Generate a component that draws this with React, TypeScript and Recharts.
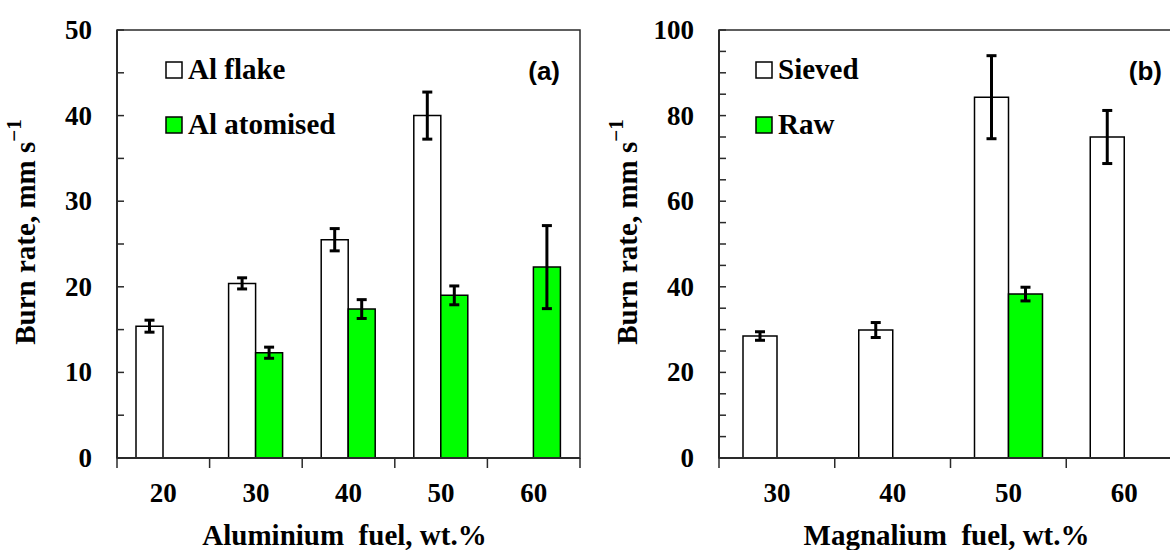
import React from 'react';
import { BarChart, Bar, XAxis, YAxis, ErrorBar, ReferenceArea } from 'recharts';

// Panel (a): aluminium fuel
const alCategories = ['20', '30', '40', '50', '60'];
const alFlake = [15.4, 20.4, 25.5, 40.0, null];
const alFlakeErr = [0.7, 0.65, 1.3, 2.75, null];
const alAtomised = [null, 12.3, 17.4, 19.0, 22.3];
const alAtomisedErr = [null, 0.65, 1.1, 1.1, 4.85];
const alTicks = [0, 5, 10, 15, 20, 25, 30, 35, 40, 45, 50];

// Panel (b): magnalium fuel
const mgCategories = ['30', '40', '50', '60'];
const mgSieved = [28.5, 29.9, 84.3, 75.0];
const mgSievedErr = [1.0, 1.75, 9.7, 6.2];
const mgRaw = [null, null, 38.3, null];
const mgRawErr = [null, null, 1.6, null];
const mgTicks = [0, 5, 10, 15, 20, 25, 30, 35, 40, 45, 50, 55, 60, 65, 70, 75, 80, 85, 90, 95, 100];

const SERIF = '"Liberation Serif", "Times New Roman", serif';
const SANS = '"Liberation Sans", Arial, sans-serif';
const AXIS = '#2a2a2a';
const GREEN = '#00FF00';

const CHART_W = 600;
const CHART_H = 550;
const TOP = 30;
const RIGHT = 20;
const Y_W = 117;
const X_H = 92;
const PLOT_W = CHART_W - Y_W - RIGHT;
const PLOT_H = CHART_H - TOP - X_H;

interface SeriesDef {
  key: string;
  errKey: string;
  name: string;
  fill: string;
}

interface PanelProps {
  data: any[];
  series: SeriesDef[];
  yMax: number;
  yTicks: number[];
  labelStep: number;
  barSize: number;
  xTitle: string;
  panelLabel: string;
  legendX: number;
}

function Panel({ data, series, yMax, yTicks, labelStep, barSize, xTitle, panelLabel, legendX }: PanelProps) {
  const band = PLOT_W / data.length;
  const plotBottom = TOP + PLOT_H;

  const YTick = ({ x, y, payload }: any) => (
    <g>
      <line x1={x} x2={x + 7} y1={y} y2={y} stroke={AXIS} strokeWidth={1.5} />
      {payload.value % labelStep === 0 && (
        <text x={x - 25} y={y} dy={9} textAnchor="end" fontFamily={SERIF} fontWeight="bold" fontSize={27} fill="#000">
          {payload.value}
        </text>
      )}
    </g>
  );

  const XTick = ({ x, y, payload, index }: any) => (
    <g>
      <line x1={x - band / 2} x2={x - band / 2} y1={y} y2={y + 10} stroke={AXIS} strokeWidth={1.5} />
      {index === data.length - 1 && (
        <line x1={x + band / 2} x2={x + band / 2} y1={y} y2={y + 10} stroke={AXIS} strokeWidth={1.5} />
      )}
      <text x={x} y={y + 44} textAnchor="middle" fontFamily={SERIF} fontWeight="bold" fontSize={27} fill="#000">
        {payload.value}
      </text>
    </g>
  );

  return (
    <BarChart
      width={CHART_W}
      height={CHART_H}
      data={data}
      margin={{ top: TOP, right: RIGHT, left: 0, bottom: 0 }}
      barGap={0}
      barSize={barSize}
    >
      <XAxis
        dataKey="cat"
        height={X_H}
        tickLine={false}
        tickSize={0}
        tickMargin={0}
        axisLine={{ stroke: AXIS, strokeWidth: 2 }}
        tick={<XTick />}
        interval={0}
      />
      <YAxis
        width={Y_W}
        domain={[0, yMax]}
        ticks={yTicks}
        tickLine={false}
        tickSize={0}
        tickMargin={0}
        axisLine={{ stroke: AXIS, strokeWidth: 2 }}
        tick={<YTick />}
        interval={0}
      />
      <ReferenceArea y1={0} y2={yMax} fill="none" stroke={AXIS} strokeWidth={1.5} />
      {series.map((s) => (
        <Bar key={s.key} dataKey={s.key} fill={s.fill} stroke="#000" strokeWidth={1.5} isAnimationActive={false}>
          <ErrorBar dataKey={s.errKey} direction="y" width={5} strokeWidth={3} stroke="#000" isAnimationActive={false} />
        </Bar>
      ))}

      <text
        transform={`translate(25, ${TOP + PLOT_H / 2 - 12}) rotate(-90)`}
        textAnchor="middle"
        dominantBaseline="central"
        fontFamily={SERIF}
        fontWeight="bold"
        fontSize={29}
        fill="#000"
      >
        Burn rate, mm s
        <tspan dy={-11} fontSize={21}>−1</tspan>
      </text>
      <text
        x={Y_W + PLOT_W / 2 - 4}
        y={plotBottom + 87}
        textAnchor="middle"
        fontFamily={SERIF}
        fontWeight="bold"
        fontSize={29}
        fill="#000"
        style={{ whiteSpace: 'pre' }}
      >
        {xTitle}
      </text>
      <text x={Y_W + PLOT_W - 20} y={80} textAnchor="end" fontFamily={SANS} fontWeight="bold" fontSize={26} fill="#000">
        {panelLabel}
      </text>
      {series.map((s, i) => (
        <g key={s.key}>
          <rect x={legendX} y={62 + i * 55} width={16} height={16} fill={s.fill} stroke="#000" strokeWidth={1.5} />
          <text x={legendX + 22} y={79 + i * 55} fontFamily={SERIF} fontWeight="bold" fontSize={29} fill="#000">
            {s.name}
          </text>
        </g>
      ))}
    </BarChart>
  );
}

export default function App() {
  const alData = alCategories.map((cat, i) => ({
    cat,
    flake: alFlake[i],
    flakeErr: alFlakeErr[i],
    atomised: alAtomised[i],
    atomisedErr: alAtomisedErr[i],
  }));
  const mgData = mgCategories.map((cat, i) => ({
    cat,
    sieved: mgSieved[i],
    sievedErr: mgSievedErr[i],
    raw: mgRaw[i],
    rawErr: mgRawErr[i],
  }));

  return (
    <div style={{ position: 'fixed', left: 0, top: 0, width: 1170, height: 550, overflow: 'hidden', background: '#fff' }}>
      <div style={{ position: 'absolute', left: 0, top: 0 }}>
        <Panel
          data={alData}
          series={[
            { key: 'flake', errKey: 'flakeErr', name: 'Al flake', fill: '#ffffff' },
            { key: 'atomised', errKey: 'atomisedErr', name: 'Al atomised', fill: GREEN },
          ]}
          yMax={50}
          yTicks={alTicks}
          labelStep={10}
          barSize={27}
          xTitle="Aluminium  fuel, wt.%"
          panelLabel="(a)"
          legendX={166}
        />
      </div>
      <div style={{ position: 'absolute', left: 602, top: 0 }}>
        <Panel
          data={mgData}
          series={[
            { key: 'sieved', errKey: 'sievedErr', name: 'Sieved', fill: '#ffffff' },
            { key: 'raw', errKey: 'rawErr', name: 'Raw', fill: GREEN },
          ]}
          yMax={100}
          yTicks={mgTicks}
          labelStep={20}
          barSize={34}
          xTitle="Magnalium  fuel, wt.%"
          panelLabel="(b)"
          legendX={154}
        />
      </div>
    </div>
  );
}
